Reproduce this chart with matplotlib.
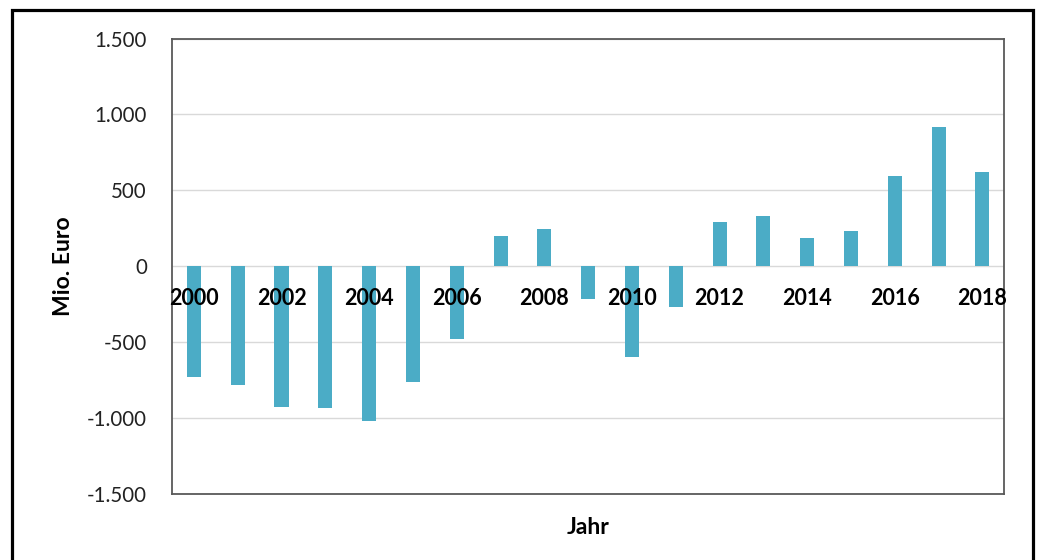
import matplotlib.pyplot as plt
from matplotlib.patches import Rectangle
from matplotlib.ticker import FuncFormatter

years = list(range(2000, 2019))
saldo = [-730, -780, -925, -935, -1020, -760, -480, 200, 245, -215,
         -595, -270, 295, 330, 185, 235, 595, 920, 620]  # Mio. Euro
label_years = years[::2]

ylabel = 'Mio. Euro'
xlabel = 'Jahr'
bar_color = '#4bacc6'

plt.rcParams['font.family'] = ['Lato', 'DejaVu Sans']

fig = plt.figure(figsize=(10.38, 5.6), dpi=100)
ax = fig.add_axes([0.1657, 0.1173, 0.8018, 0.8139])

ax.bar(years, saldo, width=0.32, color=bar_color, zorder=2)

ax.set_xlim(1999.5, 2018.5)
ax.set_ylim(-1500, 1500)
ax.set_yticks(range(-1500, 1501, 500))
ax.yaxis.set_major_formatter(FuncFormatter(lambda v, p: f'{v:,.0f}'.replace(',', '.')))
ax.tick_params(axis='y', length=0, pad=18, labelsize=14.8, labelcolor='#222222')
ax.set_xticks([])
ax.grid(axis='y', color='#d9d9d9', lw=1.0, zorder=0)
ax.set_axisbelow(True)

for s in ax.spines.values():
    s.set_color('#595959')
    s.set_linewidth(1.3)

# year labels sit just under the zero line, every second year
for y in label_years:
    ax.annotate(str(y), (y, 0), xytext=(0, -23), textcoords='offset points',
                ha='center', va='center', fontsize=15.5, fontweight='bold',
                color='black', zorder=3)

ax.set_ylabel(ylabel, fontsize=16.5, fontweight='bold')
ax.yaxis.label.set_va('center')
ax.yaxis.set_label_coords(-0.1298, 0.5)
ax.set_xlabel(xlabel, fontsize=16.5, fontweight='bold')
ax.xaxis.label.set_va('center')
ax.xaxis.set_label_coords(0.5, -0.072)

# black frame around the whole chart
fig.patches.append(Rectangle((12 / 1038, -0.05), 1021 / 1038, 1.033,
                             transform=fig.transFigure, fill=False,
                             edgecolor='black', lw=2.3, clip_on=False))

plt.savefig('out.png', dpi=100)
